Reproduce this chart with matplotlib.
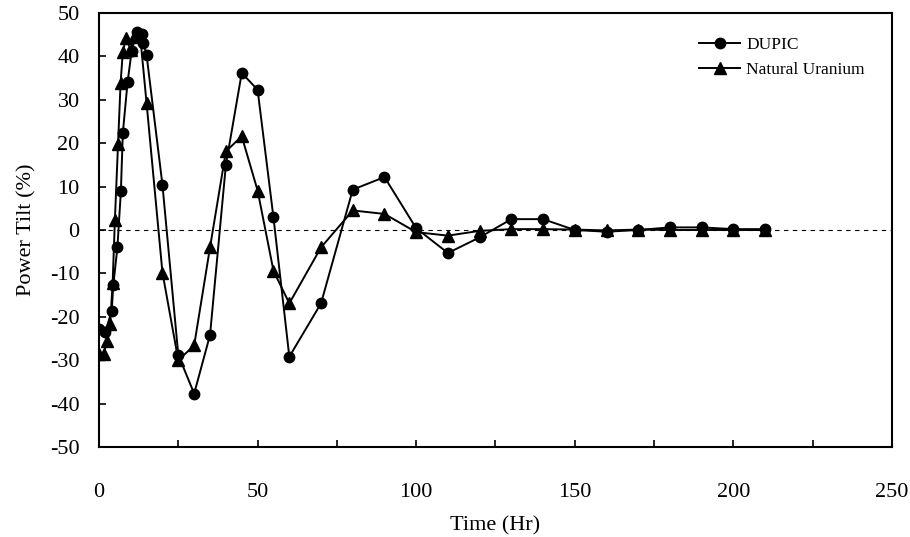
import numpy as np
import matplotlib.pyplot as plt
from matplotlib.ticker import MultipleLocator

# DUPIC fuel
dupic_t = [0, 2, 4, 4.5, 5.8, 6.9, 7.5, 9, 10.3, 12, 13.5, 14, 15, 20, 25, 30,
           35, 40, 45, 50, 55, 60, 70, 80, 90, 100, 110, 120, 130, 140, 150,
           160, 170, 180, 190, 200, 210]
dupic_tilt = [-22.8, -23.5, -18.6, -12.7, -4.0, 9.0, 22.3, 34.0, 41.3, 45.7,
              45.2, 43.2, 40.3, 10.4, -28.8, -37.7, -24.2, 15.0, 36.2, 32.3,
              2.9, -29.2, -16.9, 9.3, 12.2, 0.4, -5.3, -1.7, 2.5, 2.5, 0.0,
              -0.4, 0.0, 0.6, 0.6, 0.2, 0.2]

# natural uranium fuel
nu_t = [0, 1.5, 2.5, 3.5, 4.3, 5, 6, 6.8, 7.5, 8.5, 10, 11.5, 13, 15, 20, 25,
        30, 35, 40, 45, 50, 55, 60, 70, 80, 90, 100, 110, 120, 130, 140, 150,
        160, 170, 180, 190, 200, 210]
nu_tilt = [-28.6, -28.6, -25.5, -21.7, -12.2, 2.2, 19.8, 33.8, 41.0, 44.2,
           41.4, 45.0, 44.5, 29.2, -9.8, -30.0, -26.6, -4.0, 18.1, 21.6, 9.1,
           -9.4, -16.9, -4.0, 4.5, 3.7, -0.5, -1.3, -0.2, 0.2, 0.2, 0.1, -0.1,
           0.1, 0.0, 0.0, 0.0, 0.0]

plt.rcParams['font.family'] = ['Liberation Serif', 'DejaVu Serif']
plt.rcParams['font.size'] = 16
plt.rcParams['axes.unicode_minus'] = False

fig = plt.figure(figsize=(9.1, 5.37), dpi=100)
ax = fig.add_axes([0.1088, 0.1676, 0.8714, 0.8082])

ax.axhline(0, color='black', lw=0.8, ls=(0, (4, 4)), zorder=1)
ax.plot(dupic_t, dupic_tilt, '-o', color='black', lw=1.4, markersize=7.5,
        label='DUPIC')
ax.plot(nu_t, nu_tilt, '-^', color='black', lw=1.4, markersize=8.5,
        label='Natural Uranium')

ax.set_xlim(0, 250)
ax.set_ylim(-50, 50)
ax.xaxis.set_major_locator(MultipleLocator(50))
ax.xaxis.set_minor_locator(MultipleLocator(25))
ax.yaxis.set_major_locator(MultipleLocator(10))
ax.tick_params(which='both', direction='in', width=1.2, length=5,
               labelsize=16)
ax.tick_params(axis='y', pad=14)
ax.tick_params(axis='x', pad=26)
for s in ax.spines.values():
    s.set_linewidth(1.5)

ax.set_xlabel('Time (Hr)', fontsize=16, labelpad=10)
ax.set_ylabel('Power Tilt (%)', fontsize=16, labelpad=10)

ax.legend(loc='upper left', bbox_to_anchor=(0.757, 0.946), frameon=False,
          fontsize=12.5, handlelength=2.36, handletextpad=0.35,
          labelspacing=0.55, borderpad=0, borderaxespad=0)

fig.savefig('out.png', dpi=100)
